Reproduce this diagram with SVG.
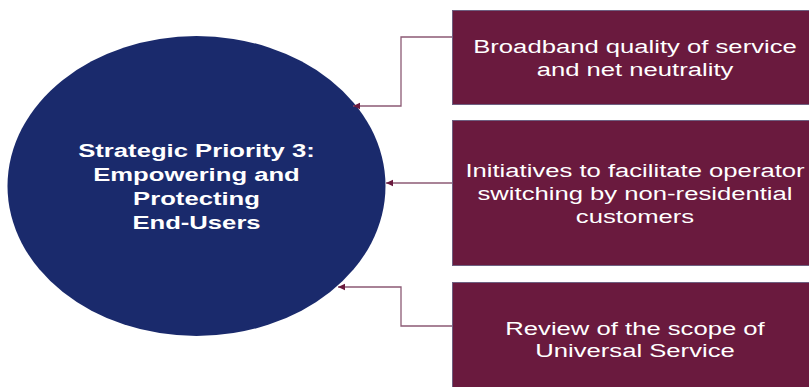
<svg xmlns="http://www.w3.org/2000/svg" width="809" height="387" viewBox="0 0 809 387">
  <style>
    .hub { fill: #1a2a6c; }
    .box { fill: #6a1a3e; stroke: #6e5f80; stroke-width: 1; }
    .hub-label { font-family: "Liberation Sans", Arial, sans-serif; font-weight: bold; font-size: 19px; fill: #ffffff; text-anchor: middle; }
    .box-label { font-family: "Liberation Sans", Arial, sans-serif; font-size: 19px; fill: #ffffff; text-anchor: middle; }
    .link { fill: none; stroke: #8c5a74; stroke-width: 1.3; }
  </style>
  <defs>
    <marker id="arrow" markerWidth="8" markerHeight="8" refX="7" refY="4" orient="auto" markerUnits="userSpaceOnUse">
      <path d="M0,0.8 L7,4 L0,7.2 Z" fill="#6a1a3e"/>
    </marker>
  </defs>
  <rect width="809" height="387" fill="#ffffff"/>

  <g id="hub">
    <ellipse class="hub" cx="196.5" cy="186" rx="189" ry="150"/>
    <g transform="translate(196.5,0) scale(1.35,1)">
      <text class="hub-label" x="0" y="157">Strategic Priority 3:</text>
      <text class="hub-label" x="0" y="181">Empowering and</text>
      <text class="hub-label" x="0" y="205">Protecting</text>
      <text class="hub-label" x="0" y="229">End-Users</text>
    </g>
  </g>

  <g id="item-broadband">
    <rect class="box" x="452.5" y="10.5" width="370" height="94"/>
    <g transform="translate(635,0) scale(1.35,1)">
      <text class="box-label" x="0" y="53">Broadband quality of service</text>
      <text class="box-label" x="0" y="76">and net neutrality</text>
    </g>
  </g>

  <g id="item-switching">
    <rect class="box" x="452.5" y="120.5" width="370" height="145"/>
    <g transform="translate(635,0) scale(1.35,1)">
      <text class="box-label" x="0" y="177">Initiatives to facilitate operator</text>
      <text class="box-label" x="0" y="200">switching by non-residential</text>
      <text class="box-label" x="0" y="223">customers</text>
    </g>
  </g>

  <g id="item-universal">
    <rect class="box" x="452.5" y="282.5" width="370" height="120"/>
    <g transform="translate(635,0) scale(1.35,1)">
      <text class="box-label" x="0" y="335">Review of the scope of</text>
      <text class="box-label" x="0" y="357">Universal Service</text>
    </g>
  </g>

  <g id="connectors">
    <path class="link" d="M452,37 H401 V106 H353" marker-end="url(#arrow)"/>
    <path class="link" d="M452,183 H386" marker-end="url(#arrow)"/>
    <path class="link" d="M452,326 H401 V287 H338" marker-end="url(#arrow)"/>
  </g>
</svg>
